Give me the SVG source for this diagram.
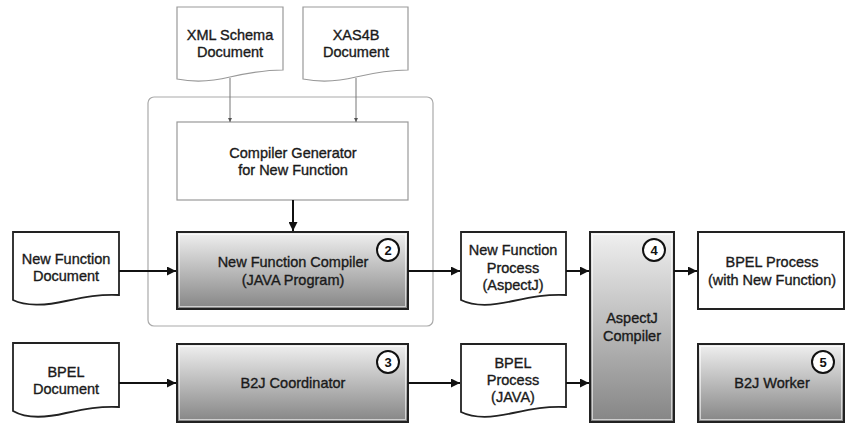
<svg xmlns="http://www.w3.org/2000/svg" width="846" height="423" viewBox="0 0 846 423">
<defs>
<linearGradient id="g" x1="0" y1="0" x2="0" y2="1">
<stop offset="0" stop-color="#f0f0f0"/>
<stop offset="1" stop-color="#858585"/>
</linearGradient>
<marker id="ah" viewBox="0 0 10 10" refX="10" refY="5" markerWidth="4.5" markerHeight="4.5" orient="auto" markerUnits="strokeWidth">
<path d="M0,0 L10,5 L0,10 Z" fill="#111"/>
</marker>
<marker id="as" viewBox="0 0 10 10" refX="10" refY="5" markerWidth="4" markerHeight="4" orient="auto" markerUnits="strokeWidth">
<path d="M0,0 L10,5 L0,10 Z" fill="#555"/>
</marker>
</defs>
<style>
text{font-family:"Liberation Sans",Arial,sans-serif;font-size:14.5px;fill:#1a1a1a;stroke:#1a1a1a;stroke-width:0.35;text-anchor:middle;}
.doc{fill:#fff;stroke:#222;stroke-width:1.8;}
.ldoc{fill:#fff;stroke:#999;stroke-width:1.2;}
.lbox{fill:#fff;stroke:#999;stroke-width:1.2;}
.gbox{fill:url(#g);stroke:#222;stroke-width:2;}
.inner{fill:none;stroke:#fff;stroke-opacity:0.6;stroke-width:1;}
.wbox{fill:#fff;stroke:#222;stroke-width:2;}
.num{fill:#fff;stroke:#111;stroke-width:2;}
.nt{font-size:13px;font-weight:bold;fill:#111;stroke:none;}
.arr{stroke:#111;stroke-width:2;fill:none;marker-end:url(#ah);}
.thin{stroke:#777;stroke-width:1;fill:none;marker-end:url(#as);}
</style>
<rect x="148" y="97" width="285" height="229" rx="6" fill="none" stroke="#aaa" stroke-width="1.2"/>
<g id="xml-schema">
<path class="ldoc" d="M177,7 H283 V70 C263,70 248,73 230,77 C210,82 192,82 177,79 Z"/>
<text x="230" y="40">XML Schema</text>
<text x="230" y="57">Document</text>
</g>
<g id="xas4b">
<path class="ldoc" d="M303,7 H408 V70 C388,70 373,73 356,77 C336,82 318,82 303,79 Z"/>
<text x="356" y="40">XAS4B</text>
<text x="356" y="57">Document</text>
</g>
<g id="compiler-generator">
<rect class="lbox" x="177" y="122" width="231" height="78"/>
<text x="293" y="158">Compiler Generator</text>
<text x="293" y="175">for New Function</text>
</g>
<g id="new-function-doc">
<path class="doc" d="M13,232 H119 V295 C100,294 85,297 66,301 C45,306 25,306 13,300 Z"/>
<text x="66" y="264">New Function</text>
<text x="66" y="281">Document</text>
</g>
<g id="new-function-compiler">
<rect class="gbox" x="177" y="232" width="231" height="77"/>
<rect class="inner" x="179.5" y="234.5" width="226" height="72"/>
<text x="293" y="267">New Function Compiler</text>
<text x="293" y="285">(JAVA Program)</text>
<circle class="num" cx="388" cy="250" r="11"/>
<text class="nt" x="388" y="254.5">2</text>
</g>
<g id="bpel-doc">
<path class="doc" d="M13,343 H119 V407 C100,406 85,409 66,413 C45,418 25,418 13,411 Z"/>
<text x="66" y="377">BPEL</text>
<text x="66" y="394">Document</text>
</g>
<g id="b2j-coordinator">
<rect class="gbox" x="177" y="344" width="231" height="78"/>
<rect class="inner" x="179.5" y="346.5" width="226" height="73"/>
<text x="293" y="388">B2J Coordinator</text>
<circle class="num" cx="388" cy="362" r="11"/>
<text class="nt" x="388" y="366.5">3</text>
</g>
<g id="nf-process">
<path class="doc" d="M461,232 H566 V295 C547,294 532,297 513,301 C492,306 473,306 461,300 Z"/>
<text x="513" y="255">New Function</text>
<text x="513" y="273">Process</text>
<text x="513" y="290">(AspectJ)</text>
</g>
<g id="bpel-process-java">
<path class="doc" d="M461,344 H566 V407 C547,406 532,409 513,413 C492,418 473,418 461,412 Z"/>
<text x="513" y="368">BPEL</text>
<text x="513" y="385">Process</text>
<text x="513" y="402">(JAVA)</text>
</g>
<g id="aspectj-compiler">
<rect class="gbox" x="590" y="232" width="84" height="190"/>
<rect class="inner" x="592.5" y="234.5" width="79" height="185"/>
<text x="632" y="323">AspectJ</text>
<text x="632" y="341">Compiler</text>
<circle class="num" cx="654" cy="250" r="11"/>
<text class="nt" x="654" y="254.5">4</text>
</g>
<g id="bpel-process-nf">
<rect class="wbox" x="698" y="232" width="146" height="77"/>
<text x="772" y="267">BPEL Process</text>
<text x="772" y="285">(with New Function)</text>
</g>
<g id="b2j-worker">
<rect class="gbox" x="698" y="344" width="146" height="78"/>
<rect class="inner" x="700.5" y="346.5" width="141" height="73"/>
<text x="772" y="388">B2J Worker</text>
<circle class="num" cx="823" cy="362" r="11"/>
<text class="nt" x="823" y="366.5">5</text>
</g>
<g id="connectors">
<line class="thin" x1="230" y1="78" x2="230" y2="122"/>
<line class="thin" x1="356" y1="78" x2="356" y2="122"/>
<line class="arr" x1="293" y1="200" x2="293" y2="231"/>
<line class="arr" x1="119" y1="271" x2="176" y2="271"/>
<line class="arr" x1="408" y1="271" x2="460" y2="271"/>
<line class="arr" x1="119" y1="383" x2="176" y2="383"/>
<line class="arr" x1="408" y1="383" x2="460" y2="383"/>
<line class="arr" x1="566" y1="271" x2="589" y2="271"/>
<line class="arr" x1="566" y1="383" x2="589" y2="383"/>
<line class="arr" x1="674" y1="271" x2="697" y2="271"/>
</g>
</svg>
